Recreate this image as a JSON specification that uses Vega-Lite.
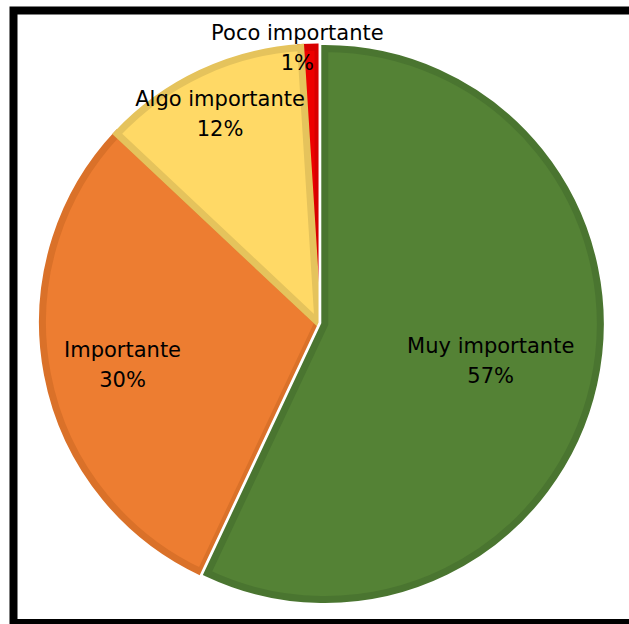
{
  "$schema": "https://vega.github.io/schema/vega-lite/v6.json",
  "autosize": {"type": "fit", "contains": "padding"},
  "width": 629,
  "height": 624,
  "padding": {"left": 13.5, "top": 10.5, "right": -5, "bottom": 1},
  "background": "white",
  "view": {"stroke": "black", "strokeWidth": 8, "fill": "white"},
  "config": {
    "text": {"font": "DejaVu Sans", "fontSize": 21, "lineHeight": 30, "color": "black", "dy": -14}
  },
  "data": {
    "values": [
      {"categoria": "Muy importante", "porcentaje": 57},
      {"categoria": "Importante", "porcentaje": 30},
      {"categoria": "Poco importante", "porcentaje": 1},
      {"categoria": "Algo importante", "porcentaje": 12}
    ]
  },
  "transform": [
    {"stack": "porcentaje", "groupby": [], "sort": [{"field": "porcentaje", "order": "descending"}], "as": ["inicio", "fin"]},
    {"calculate": "(datum.inicio + datum.fin) / 2", "as": "medio"},
    {"calculate": "[datum.categoria, datum.porcentaje + '%']", "as": "etiqueta"}
  ],
  "layer": [
    {
      "transform": [{"filter": "datum.categoria !== 'Muy importante'"}],
      "mark": {"type": "arc", "outerRadius": 275.5, "strokeWidth": 7, "xOffset": -5.75, "yOffset": 5.75},
      "encoding": {
        "theta": {"field": "inicio", "type": "quantitative", "scale": {"domain": [0, 100]}},
        "theta2": {"field": "fin"},
        "fill": {"field": "categoria", "type": "nominal", "legend": null,
          "scale": {"domain": ["Muy importante", "Importante", "Algo importante", "Poco importante"],
                    "range": ["#548235", "#ED7D31", "#FFD966", "#EE0000"]}},
        "stroke": {"field": "categoria", "type": "nominal", "legend": null,
          "scale": {"domain": ["Muy importante", "Importante", "Algo importante", "Poco importante"],
                    "range": ["#4A7530", "#DA7129", "#E5C35C", "#D80000"]}}
      }
    },
    {
      "transform": [{"filter": "datum.categoria === 'Muy importante'"}],
      "mark": {"type": "arc", "outerRadius": 275.5, "stroke": "white", "strokeWidth": 12.5, "xOffset": 1.05, "yOffset": 7.25},
      "encoding": {
        "theta": {"field": "inicio", "type": "quantitative", "scale": {"domain": [0, 100]}},
        "theta2": {"field": "fin"},
        "fill": {"field": "categoria", "type": "nominal", "legend": null}
      }
    },
    {
      "transform": [{"filter": "datum.categoria === 'Muy importante'"}],
      "mark": {"type": "arc", "outerRadius": 275.5, "strokeWidth": 7, "xOffset": 1.05, "yOffset": 7.25},
      "encoding": {
        "theta": {"field": "inicio", "type": "quantitative", "scale": {"domain": [0, 100]}},
        "theta2": {"field": "fin"},
        "fill": {"field": "categoria", "type": "nominal", "legend": null},
        "stroke": {"field": "categoria", "type": "nominal", "legend": null}
      }
    },
    {
      "transform": [{"filter": "datum.categoria === 'Muy importante'"}],
      "mark": {"type": "text", "radius": 170, "xOffset": 1.05, "yOffset": 7.25},
      "encoding": {
        "theta": {"field": "medio", "type": "quantitative", "stack": null, "scale": {"domain": [0, 100]}},
        "text": {"field": "etiqueta", "type": "nominal"}
      }
    },
    {
      "transform": [{"filter": "datum.categoria === 'Importante'"}],
      "mark": {"type": "text", "radius": 199, "dy": -9, "xOffset": -5.75, "yOffset": 5.75},
      "encoding": {
        "theta": {"field": "medio", "type": "quantitative", "stack": null, "scale": {"domain": [0, 100]}},
        "text": {"field": "etiqueta", "type": "nominal"}
      }
    },
    {
      "transform": [{"filter": "datum.categoria === 'Algo importante'"}],
      "mark": {"type": "text", "radius": 230, "xOffset": -5.75, "yOffset": 5.75},
      "encoding": {
        "theta": {"field": "medio", "type": "quantitative", "stack": null, "scale": {"domain": [0, 100]}},
        "text": {"field": "etiqueta", "type": "nominal"}
      }
    },
    {
      "transform": [{"filter": "datum.categoria === 'Poco importante'"}],
      "mark": {"type": "text", "radius": 275, "dx": -12, "xOffset": -5.75, "yOffset": 5.75},
      "encoding": {
        "theta": {"field": "medio", "type": "quantitative", "stack": null, "scale": {"domain": [0, 100]}},
        "text": {"field": "etiqueta", "type": "nominal"}
      }
    }
  ]
}
